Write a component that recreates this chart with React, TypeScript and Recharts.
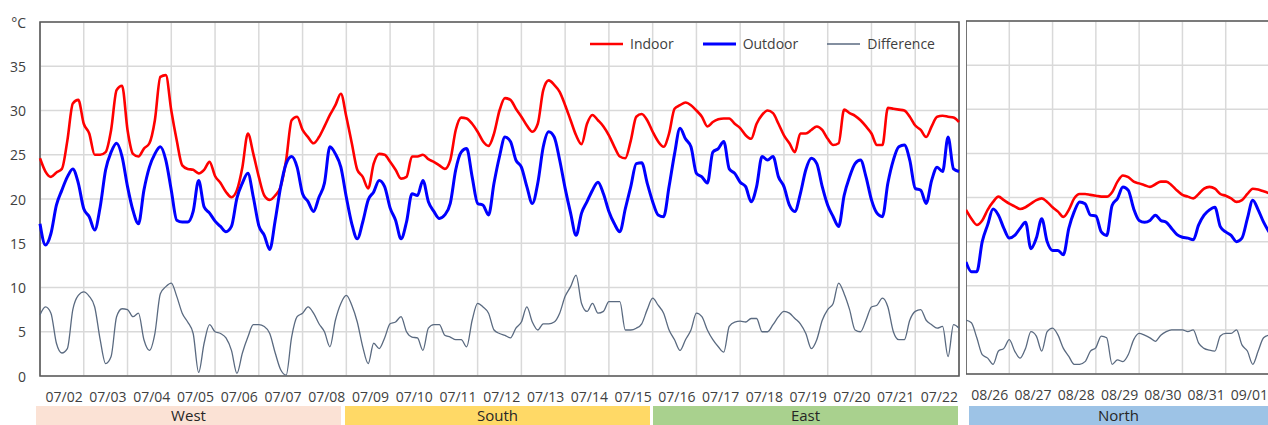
import React from "react";
import {
  LineChart,
  Line,
  XAxis,
  YAxis,
  CartesianGrid,
  ReferenceArea,
  Legend,
} from "recharts";

// readings every 3 hours, one row of 8 per day
const STEP = 3;
const FONT = "'Open Sans', sans-serif";
const INK = "#404040";

const julLabels = [
  "07/02", "07/03", "07/04", "07/05", "07/06", "07/07", "07/08",
  "07/09", "07/10", "07/11", "07/12", "07/13", "07/14", "07/15",
  "07/16", "07/17", "07/18", "07/19", "07/20", "07/21", "07/22",
];
const augLabels = ["08/26", "08/27", "08/28", "08/29", "08/30", "08/31", "09/01"];
const yTicks = [0, 5, 10, 15, 20, 25, 30, 35, 40];

const indoorJul = [
  24.6, 23.1, 22.5, 23.0, 23.4, 26.6, 30.8, 31.2,
  28.5, 27.4, 25.0, 25.0, 25.3, 27.8, 32.3, 32.8,
  27.8, 25.1, 24.8, 25.7, 26.3, 28.9, 33.8, 34.0,
  30.0, 26.6, 23.8, 23.4, 23.3, 22.9, 23.3, 24.2,
  22.6, 21.8, 20.8, 20.2, 21.0, 23.6, 27.4, 25.1,
  22.5, 20.4, 19.9, 20.4, 21.4, 24.4, 28.9, 29.3,
  27.8, 27.0, 26.3, 27.0, 28.2, 29.5, 30.6, 31.9,
  29.3, 26.3, 23.3, 22.5, 21.2, 24.0, 25.1, 25.0,
  24.2, 23.3, 22.3, 22.5, 24.8, 24.8, 25.0, 24.5,
  24.2, 23.8, 23.4, 24.4, 27.8, 29.2, 29.1, 28.5,
  27.6, 26.5, 26.0, 27.4, 30.0, 31.4, 31.2, 30.2,
  29.3, 28.3, 27.6, 28.5, 32.3, 33.4, 32.9, 32.1,
  30.6, 28.9, 27.2, 26.2, 28.5, 29.5, 28.9, 28.2,
  27.2, 25.9, 24.8, 24.6, 26.6, 29.3, 29.6, 28.9,
  27.6, 26.5, 25.9, 27.4, 30.2, 30.6, 30.9, 30.6,
  30.0, 29.3, 28.2, 28.7, 29.0, 29.1, 29.1, 28.5,
  28.0, 27.2, 26.8, 28.5, 29.5, 30.0, 29.7, 28.5,
  27.2, 26.3, 25.3, 27.4, 27.4, 27.8, 28.2, 27.8,
  26.8, 26.1, 26.3, 30.1, 29.7, 29.4, 28.9, 28.2,
  27.4, 26.1, 26.1, 30.3, 30.2, 30.1, 30.0, 29.3,
  28.3, 27.8, 27.0, 28.2, 29.3, 29.4, 29.3, 29.2,
  28.7,
];

const outdoorJul = [
  17.2, 14.8, 16.1, 19.3, 21.0, 22.5, 23.4, 21.8,
  18.9, 18.0, 16.5, 19.1, 23.3, 25.3, 26.3, 24.8,
  21.4, 18.7, 17.2, 21.0, 23.6, 25.1, 25.9, 24.4,
  21.0, 17.6, 17.4, 17.4, 18.6, 22.1, 19.1, 18.4,
  17.5, 16.9, 16.3, 16.9, 20.1, 21.8, 22.9, 20.2,
  17.0, 15.9, 14.3, 17.6, 21.4, 24.0, 24.8, 23.6,
  20.6, 19.7, 18.6, 20.2, 21.8, 25.9, 25.1, 23.6,
  20.2, 17.2, 15.5, 17.4, 19.9, 20.8, 22.1, 21.4,
  19.0, 17.6, 15.5, 17.4, 20.6, 20.4, 22.1, 19.7,
  18.6, 17.8, 18.2, 19.5, 23.3, 25.3, 25.7, 22.5,
  19.5, 19.3, 18.2, 21.8, 24.8, 27.0, 26.5, 24.4,
  23.6, 21.4, 19.5, 21.8, 25.9, 27.6, 27.0, 24.4,
  21.2, 18.4, 15.9, 18.4, 19.7, 21.0, 21.9, 20.6,
  18.6, 17.2, 16.3, 18.9, 21.4, 24.0, 24.1, 21.8,
  19.7, 18.2, 18.0, 21.4, 25.1, 28.0, 26.8, 25.9,
  22.9, 22.5, 21.8, 25.3, 25.7, 26.5, 23.4, 22.9,
  21.9, 21.4, 19.7, 21.4, 24.8, 24.4, 24.8, 22.5,
  21.4, 19.3, 18.6, 20.6, 23.3, 24.6, 24.0, 21.4,
  19.3, 18.0, 16.9, 20.4, 22.5, 24.0, 24.4, 22.5,
  19.9, 18.4, 18.0, 21.8, 24.4, 25.9, 26.1, 24.4,
  21.2, 21.0, 19.5, 22.1, 23.6, 23.1, 27.0, 23.4,
  23.1,
];

const diffJul = [
  6.9, 7.8, 7.1, 3.7, 2.6, 3.1, 7.5, 9.1,
  9.5, 9.0, 7.8, 4.1, 1.4, 2.2, 6.7, 7.6,
  7.5, 6.7, 7.1, 4.1, 2.9, 4.8, 9.3, 10.1,
  10.5, 9.0, 7.1, 6.1, 4.8, 0.4, 3.7, 5.8,
  5.0, 4.8, 4.3, 2.9, 0.3, 2.6, 4.4, 5.8,
  5.8, 5.6, 4.8, 2.6, 0.7, 0.1, 4.4, 6.7,
  7.1, 7.8, 7.1, 5.9, 5.0, 3.3, 6.3, 8.2,
  9.1, 8.0, 6.1, 3.3, 1.4, 3.7, 3.1, 4.3,
  5.9, 6.1, 6.7, 5.0, 4.4, 4.3, 2.9, 5.4,
  5.8, 5.8, 4.6, 4.4, 4.1, 4.1, 3.3, 6.3,
  8.2, 7.8, 7.1, 5.2, 4.8, 4.6, 4.3, 5.4,
  6.1, 7.8, 6.1, 5.2, 5.9, 5.9, 6.1, 7.1,
  9.0, 10.1, 11.4, 8.2, 7.3, 8.2, 7.1, 7.3,
  8.4, 8.4, 8.4, 5.2, 5.2, 5.4, 5.9, 7.5,
  8.8, 8.0, 7.1, 5.2, 4.1, 2.9, 4.1, 5.2,
  7.1, 6.7, 5.2, 4.1, 3.3, 2.7, 5.6, 6.1,
  6.2, 6.1, 6.5, 6.5, 5.0, 5.0, 5.8, 6.7,
  7.3, 7.1, 6.5, 5.9, 4.8, 3.1, 4.1, 6.3,
  7.5, 8.2, 10.5, 9.3, 7.5, 5.2, 5.0, 6.3,
  7.8, 8.0, 8.8, 7.8, 5.0, 4.1, 4.1, 6.3,
  7.3, 7.5, 6.3, 5.8, 5.4, 5.6, 2.2, 5.8,
  5.4,
];

const indoorAug = [
  18.6, 17.6, 16.9, 17.4, 18.6, 19.5, 20.1, 19.7,
  19.3, 19.0, 18.7, 18.9, 19.3, 19.7, 19.9, 19.5,
  18.9, 18.4, 17.8, 18.6, 19.9, 20.4, 20.4, 20.3,
  20.2, 20.1, 20.1, 20.6, 21.8, 22.5, 22.3, 21.8,
  21.6, 21.4, 21.2, 21.5, 21.8, 21.8, 21.4, 20.8,
  20.3, 20.1, 19.9, 20.4, 21.0, 21.2, 21.0, 20.4,
  20.2, 19.9, 19.5, 19.7, 20.4, 21.0, 20.9, 20.7,
  20.5,
];

const outdoorAug = [
  12.7, 11.6, 11.6, 15.0, 16.9, 18.7, 18.0, 16.5,
  15.4, 15.7, 16.5, 17.2, 14.2, 15.4, 17.6, 15.0,
  14.0, 14.0, 13.5, 16.5, 18.4, 19.5, 19.3, 18.0,
  17.9, 16.1, 15.7, 19.1, 19.9, 21.2, 20.8, 18.7,
  17.4, 17.2, 17.4, 18.0, 17.4, 17.2, 16.5, 15.8,
  15.5, 15.4, 15.2, 16.9, 18.0, 18.6, 18.9, 16.7,
  16.1, 15.7, 15.0, 15.4, 17.6, 19.7, 18.6, 17.2,
  16.1,
];

const diffAug = [
  6.1, 5.8, 4.1, 2.2, 1.8, 1.1, 2.6, 2.9,
  3.9, 2.6, 1.8, 2.9, 4.8, 4.3, 2.6, 4.8,
  5.2, 4.4, 2.9, 2.0, 1.1, 1.1, 1.4, 2.6,
  3.0, 4.3, 4.1, 1.1, 1.6, 1.4, 2.2, 3.9,
  4.6, 4.4, 4.1, 3.7, 4.4, 4.8, 5.0, 5.0,
  5.0, 4.8, 5.0, 3.5, 2.9, 2.7, 2.6, 4.3,
  4.6, 4.6, 5.0, 3.3, 2.6, 1.1, 2.6, 4.1,
  4.4,
];

const regionNames = ["West", "South", "East", "North"];
const regionColors = ["#fbe2d5", "#ffd966", "#a9d18e", "#9dc3e6"];
const regionBoxes = [
  [36, 305],
  [345, 305],
  [653, 305],
  [969, 299],
];

const series = [
  { key: "indoor", name: "Indoor", color: "#ff0000", width: 2.6 },
  { key: "outdoor", name: "Outdoor", color: "#0000ff", width: 3 },
  { key: "diff", name: "Difference", color: "#5a6a80", width: 1.3 },
];

const buildRows = (indoor: number[], outdoor: number[], diff: number[]) =>
  indoor.map((v, i) => ({
    hour: i * STEP,
    indoor: v,
    outdoor: outdoor[i],
    diff: diff[i],
  }));

const julRows = buildRows(indoorJul, outdoorJul, diffJul);
const augRows = buildRows(indoorAug, outdoorAug, diffAug);

const DayTick = ({ x, y, payload, labels }: any) => {
  const i = Math.round(payload.value / 24) - 1;
  if (i < 0 || i >= labels.length) return null;
  return (
    <text x={x - 1} y={y + 26} textAnchor="end" fontSize={14} fontFamily={FONT} fill={INK}>
      {labels[i]}
    </text>
  );
};

const TempTick = ({ x, y, payload }: any) => (
  <text x={x} y={y} dy={5.5} textAnchor="end" fontSize={14} fontFamily={FONT} fill={INK}>
    {payload.value === 40 ? "°C" : payload.value}
  </text>
);

const LegendRow = () => (
  <div
    style={{
      display: "flex",
      alignItems: "center",
      fontFamily: FONT,
      fontSize: 14,
      color: INK,
      lineHeight: "20px",
      whiteSpace: "nowrap",
    }}
  >
    {series.map((s) => (
      <div key={s.key} style={{ display: "flex", alignItems: "center", marginRight: 29 }}>
        <svg width={33} height={8}>
          <line x1={0} y1={4} x2={33} y2={4} stroke={s.color} strokeWidth={s.width} />
        </svg>
        <span style={{ marginLeft: 7 }}>{s.name}</span>
      </div>
    ))}
  </div>
);

const Panel = ({ rows, labels, width, height, top, showY, showLegend }: any) => {
  const end = labels.length * 24;
  const dayTicks = labels.map((_: string, i: number) => i * 24).concat(end);
  return (
    <LineChart
      width={width}
      height={height}
      data={rows}
      margin={{ top, right: showY ? 1 : 0, bottom: 0, left: 0 }}
    >
      <CartesianGrid stroke="#d9d9d9" strokeWidth={1.5} />
      <XAxis
        type="number"
        dataKey="hour"
        domain={[0, end]}
        ticks={dayTicks}
        interval={0}
        height={30}
        axisLine={false}
        tickLine={false}
        tickSize={0}
        tickMargin={0}
        tick={(p: any) => <DayTick {...p} labels={labels} />}
      />
      <YAxis
        type="number"
        domain={[0, 40]}
        ticks={yTicks}
        interval={0}
        width={40}
        hide={!showY}
        axisLine={false}
        tickLine={false}
        tickSize={0}
        tickMargin={14}
        tick={<TempTick />}
      />
      <ReferenceArea
        x1={0}
        x2={end}
        y1={0}
        y2={40}
        fill="none"
        fillOpacity={0}
        stroke="#595959"
        strokeWidth={1.6}
        strokeOpacity={1}
      />
      {series.map((s) => (
        <Line
          key={s.key}
          type="monotone"
          dataKey={s.key}
          name={s.name}
          stroke={s.color}
          strokeWidth={s.width}
          dot={false}
          isAnimationActive={false}
        />
      ))}
      {showLegend && (
        <Legend
          layout="vertical"
          align="center"
          verticalAlign="middle"
          wrapperStyle={{ left: 590, top: 34, width: "auto" }}
          content={<LegendRow />}
        />
      )}
    </LineChart>
  );
};

export default function App() {
  return (
    <div
      style={{
        position: "absolute",
        left: 0,
        top: 0,
        width: 1268,
        height: 425,
        overflow: "hidden",
        background: "#fff",
      }}
    >
      <div style={{ position: "absolute", left: 0, top: 0 }}>
        <Panel rows={julRows} labels={julLabels} width={960} height={406} top={22} showY showLegend />
      </div>
      <div style={{ position: "absolute", left: 966, top: 0 }}>
        <Panel rows={augRows} labels={augLabels} width={303} height={404} top={21} showY={false} />
      </div>
      {regionNames.map((name, i) => (
        <div
          key={name}
          style={{
            position: "absolute",
            left: regionBoxes[i][0],
            width: regionBoxes[i][1],
            top: 406,
            height: 19,
            background: regionColors[i],
            color: "#262626",
            fontFamily: FONT,
            fontSize: 15,
            lineHeight: "19px",
            textAlign: "center",
          }}
        >
          {name}
        </div>
      ))}
    </div>
  );
}
